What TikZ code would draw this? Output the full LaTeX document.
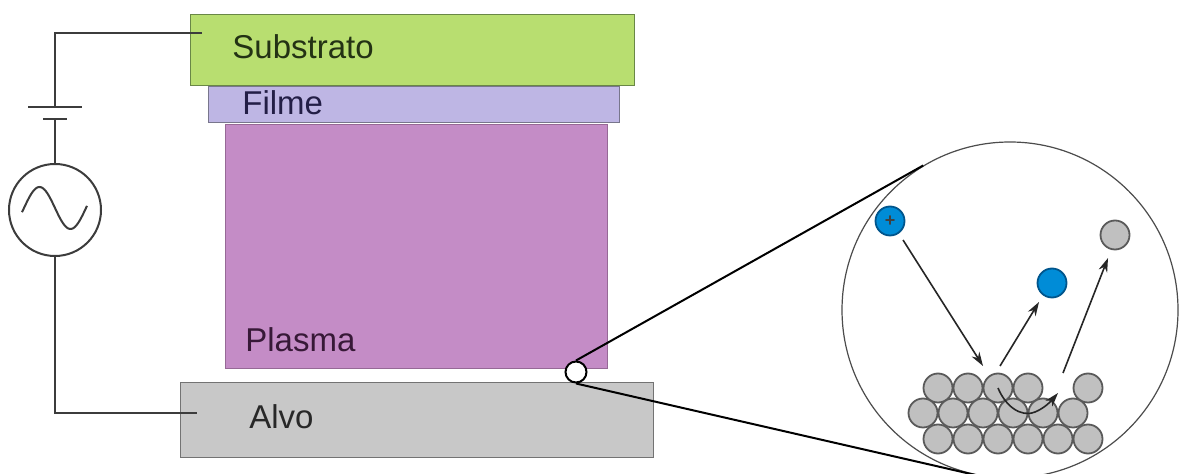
\documentclass[tikz,border=0pt]{standalone}
\usepackage{fontspec}
\setmainfont{Liberation Sans}
\usetikzlibrary{arrows.meta,calc}

\definecolor{subfill}{RGB}{184,222,112}
\definecolor{subedge}{RGB}{105,135,70}
\definecolor{subtext}{RGB}{35,50,20}
\definecolor{filfill}{RGB}{190,182,228}
\definecolor{filedge}{RGB}{120,118,140}
\definecolor{filtext}{RGB}{35,30,70}
\definecolor{plafill}{RGB}{196,140,198}
\definecolor{plaedge}{RGB}{150,105,150}
\definecolor{platext}{RGB}{55,25,55}
\definecolor{alvfill}{RGB}{200,200,200}
\definecolor{alvedge}{RGB}{115,115,115}
\definecolor{alvtext}{RGB}{40,40,40}
\definecolor{wirecol}{RGB}{60,60,60}
\definecolor{atomfill}{RGB}{192,192,192}
\definecolor{atomedge}{RGB}{90,90,90}
\definecolor{ionfill}{RGB}{0,140,215}
\definecolor{ionedge}{RGB}{0,85,140}

\tikzset{
  layer/.style={draw, line width=0.6pt, inner sep=0pt, anchor=north west},
  label text/.style={anchor=base west, inner sep=0pt, font=\fontsize{16.5}{18}\selectfont},
  wire/.style={draw=wirecol, line width=1pt},
  zoomline/.style={draw=black, line width=1pt},
  atom/.style={circle, draw=atomedge, fill=atomfill, line width=0.9pt, minimum size=14.5pt, inner sep=0pt},
  ion/.style={circle, draw=ionedge, fill=ionfill, line width=0.9pt, minimum size=14.5pt, inner sep=0pt},
  path arrow/.style={draw=black!85, line width=0.8pt, -{Stealth[length=7pt,width=4.5pt]}},
}

\begin{document}
\begin{tikzpicture}[x=0.5pt, y=-0.5pt]
  \clip (0,0) rectangle (1181,474);
  \fill[white] (0,0) rectangle (1181,474);

  % deposition chamber layers
  \node[layer, fill=subfill, draw=subedge, minimum width=222pt, minimum height=35.5pt] (sub) at (190,14) {};
  \node[layer, fill=filfill, draw=filedge, minimum width=205.5pt, minimum height=18pt] (fil) at (208,86) {};
  \node[layer, fill=plafill, draw=plaedge, minimum width=191pt, minimum height=122pt] (pla) at (225,124) {};
  \node[layer, fill=alvfill, draw=alvedge, minimum width=236.5pt, minimum height=37.5pt] (alv) at (180,382) {};

  \node[label text, text=subtext] (subl) at (232,59) {Substrato};
  \node[label text, text=filtext] (fill) at (242,115) {Filme};
  \node[label text, text=platext] (plal) at (245,352) {Plasma};
  \node[label text, text=alvtext] (alvl) at (249,429) {Alvo};

  % power supply: DC source in series with AC generator
  \coordinate (subtap) at (202,33);
  \coordinate (alvtap) at (197,413);
  \coordinate (platep) at (55,107);
  \coordinate (platen) at (55,119);
  \node[circle, draw=wirecol, line width=1pt, minimum size=46pt, inner sep=0pt] (ac) at (55,210) {};

  \draw[wire] (subtap) -| (platep);
  \draw[wire] ($(platep)+(-27,0)$) -- ($(platep)+(27,0)$);
  \draw[wire] ($(platen)+(-12,0)$) -- ($(platen)+(12,0)$);
  \draw[wire] (platen) -- (ac.north);
  \draw[wire] (ac.south) |- (alvtap);
  \draw[wire] plot[domain=-33:32, samples=50, smooth] ({55+\x},{208+21*sin(\x*180/31)});

  % magnified view of the target surface
  \node[circle, draw=black!70, line width=0.6pt, minimum size=168pt, inner sep=0pt] (lens) at (1010,310) {};
  \node[circle, draw=black, fill=white, line width=1pt, minimum size=10.5pt, inner sep=0pt] (spot) at (576,372) {};
  \draw[zoomline] (spot.north) -- (lens.121);
  \draw[zoomline] (spot.south) -- (lens.258);

  % target atoms
  \foreach \x [count=\i] in {938,968,998,1028,1088}
    \node[atom] (ra-\i) at (\x,388) {};
  \foreach \x [count=\i] in {923,953,983,1013,1043,1073}
    \node[atom] (rb-\i) at (\x,413) {};
  \foreach \x [count=\i] in {938,968,998,1028,1058,1088}
    \node[atom] (rc-\i) at (\x,439) {};

  % incoming ion and ejected particles
  \node[ion] (inc) at (890,221) {};
  \node[font=\fontsize{9}{9}\selectfont\bfseries, text=black!75, inner sep=0pt] (plus) at (inc) {+};
  \node[ion] (refl) at (1052,283) {};
  \node[atom] (sput) at (1115,235) {};

  \coordinate (hit) at (983,366);
  \coordinate (out1) at (1000,366);
  \coordinate (out2) at (1063,373);
  \draw[path arrow] (inc) ++(13,19) -- (hit);
  \draw[path arrow] (out1) -- ($(refl)+(-13,19)$);
  \draw[path arrow] (out2) -- ($(sput)+(-7,23)$);
  \draw[path arrow] (ra-3.center) .. controls (1005,405) and (1020,418) .. (1035,412)
        .. controls (1045,408) and (1052,400) .. (1058,393);
\end{tikzpicture}
\end{document}
